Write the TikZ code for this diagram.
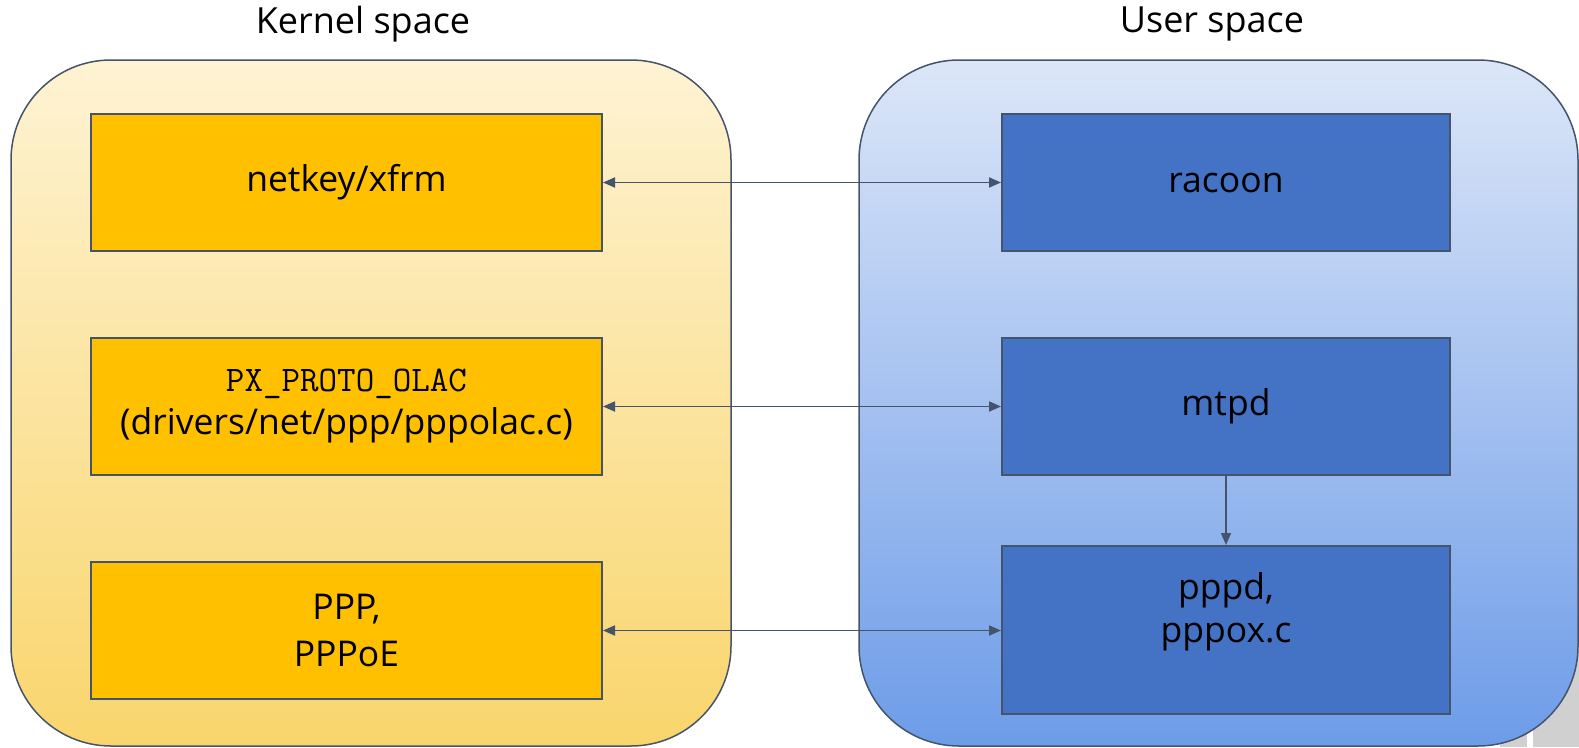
\documentclass[tikz,border=0pt]{standalone}
\usepackage{fontspec}
\setmainfont{Open Sans}
\usetikzlibrary{arrows.meta}
\definecolor{edge}{HTML}{44546A}
\definecolor{kboxfill}{HTML}{FFC000}
\definecolor{uboxfill}{HTML}{4472C4}
\definecolor{ktop}{HTML}{FEF3D3}
\definecolor{kbot}{HTML}{F9D56C}
\definecolor{utop}{HTML}{DCE6F8}
\definecolor{ubot}{HTML}{6D9CE8}
\definecolor{artgray}{HTML}{D0D0D0}
\tikzset{
  container/.style={draw=edge, line width=1.5pt, rounded corners=100pt, inner sep=0pt},
  kbox/.style={draw=edge, line width=2pt, fill=kboxfill, minimum width=511pt, minimum height=137pt, inner sep=0pt, align=center, font=\fontsize{35.5}{43}\selectfont},
  ubox/.style={draw=edge, line width=2pt, fill=uboxfill, minimum width=448pt, minimum height=137pt, inner sep=0pt, align=center, font=\fontsize{35.5}{43}\selectfont},
  title/.style={font=\fontsize{36}{42}\selectfont, inner sep=0pt},
  conn/.style={draw=edge, line width=1.8pt},
  both/.style={conn, {Triangle[length=12pt,width=10pt]}-{Triangle[length=12pt,width=10pt]}},
  one/.style={conn, -{Triangle[length=12pt,width=10pt]}},
}
\begin{document}
\begin{tikzpicture}[x=1pt, y=-1pt]
\useasboundingbox (0,0) rectangle (1579,747);
% scan artifacts at lower right
\fill[artgray] (1500,640) rectangle (1579,747);
\fill[white] (1527,723) rectangle (1533,747);
% containers
\node[container, top color=ktop, bottom color=kbot, minimum width=720pt, minimum height=686pt] (kern) at (371,403) {};
\node[container, top color=utop, bottom color=ubot, minimum width=719pt, minimum height=686pt] (user) at (1218.5,403) {};
% titles
\node[title] (kt) at (363,24) {Kernel space};
\node[title] (ut) at (1212,24) {User space};
% kernel boxes
\node[kbox] (netkey) at (346.5,182.5) {netkey/xfrm};
\node[kbox] (olac) at (346.5,406.5) {{\ttfamily\fontsize{36}{43}\selectfont PX\_PROTO\_OLAC}\\(drivers/net/ppp/pppolac.c)};
\node[kbox, font=\fontsize{35.5}{47}\selectfont] (ppp) at (346.5,630.5) {PPP,\\PPPoE};
% user boxes
\node[ubox] (racoon) at (1226,182.5) {racoon};
\node[ubox] (mtpd) at (1226,406.5) {mtpd};
\node[ubox, minimum height=168pt] (pppd) at (1226,630) {};
\node[font=\fontsize{35.5}{43}\selectfont, align=center, inner sep=0pt] (pppdtext) at (1226,612) {pppd,\\pppox.c};
% connectors
\draw[both] (netkey.east) -- (racoon.west);
\draw[both] (olac.east) -- (mtpd.west);
\draw[both] (ppp.east) -- (ppp.east -| pppd.west);
\draw[one] (mtpd.south) -- (pppd.north);
\end{tikzpicture}
\end{document}
